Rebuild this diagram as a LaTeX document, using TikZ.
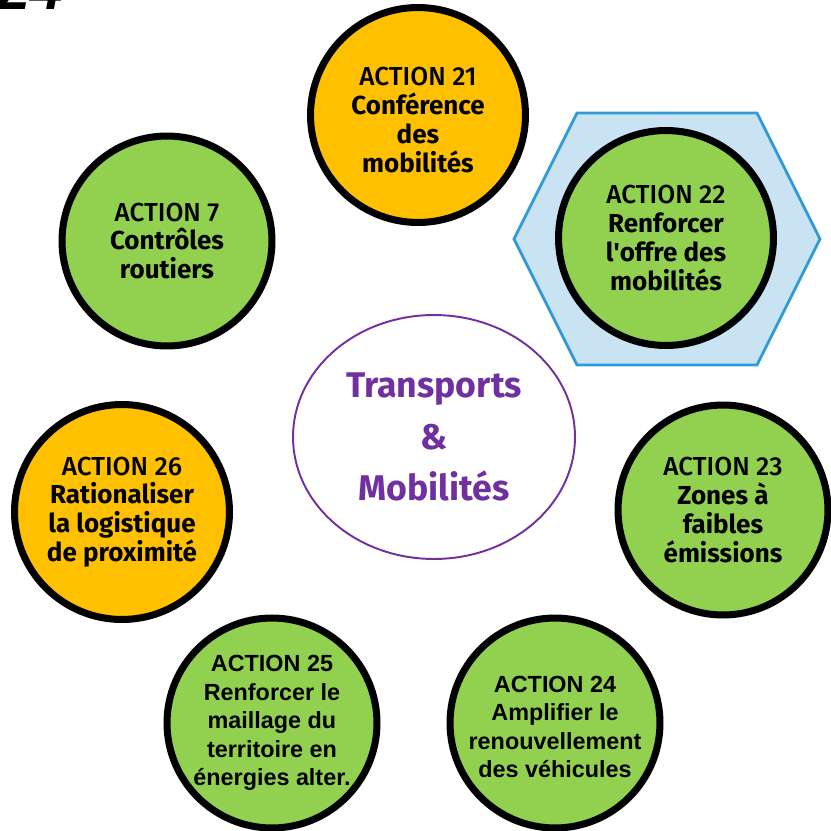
\documentclass[tikz,border=0pt]{standalone}
\usepackage{fontspec}
\setmainfont{Fira Sans}
\newfontfamily\mediumfont{Fira Sans Medium}
\newfontfamily\arialfont{Liberation Sans}
\usepackage{tikz}
\usetikzlibrary{shapes.geometric, positioning}
\definecolor{colorGold}{HTML}{FFC000}
\definecolor{colorLeaf}{HTML}{92D050}
\definecolor{colorHexFill}{HTML}{C9E3F3}
\definecolor{colorHexLine}{HTML}{2E9AD6}
\definecolor{colorTheme}{HTML}{7030A0}
\newcommand{\acttitle}[1]{{\mediumfont\mdseries ACTION #1}}
\newcommand{\straightquote}{{\addfontfeature{Ligatures=TeXOff}'}}
\tikzset{
  action/.style={circle, draw=black, line width=4pt, minimum size=4.3cm, inner sep=0pt, align=center, font=\bfseries\fontsize{14.8}{16.4}\selectfont},
  actGold/.style={action, fill=colorGold},
  actLeaf/.style={action, fill=colorLeaf},
  actArial/.style={actLeaf, font=\arialfont\bfseries\fontsize{13.3}{16.2}\selectfont},
  acttext/.style={inner sep=0pt, align=center, font=\bfseries\fontsize{14.8}{16.4}\selectfont},
  hexa/.style={fill=colorHexFill, draw=colorHexLine, line width=1.6pt, line join=miter}
}

\begin{document}
\begin{tikzpicture}[x=0.02cm, y=-0.02cm]
\useasboundingbox (0,0) rectangle (831,831);
\clip (0,0) rectangle (831,831);
\node[anchor=base west, inner sep=0pt, font=\arialfont\bfseries\itshape\fontsize{34}{34}\selectfont] (num) at (-3,10) {24};
% theme in the middle
\node[ellipse, draw=colorTheme, line width=1.1pt, minimum width=5.64cm, minimum height=4.88cm, align=center, text=colorTheme, font=\bfseries\fontsize{20.3}{29.5}\selectfont] (tm) at (434,437) {Transports\\\&\\Mobilités};
% highlighted action
\draw[hexa, shift={(667,239)}] (-153,0) -- (-90,-126) -- (90,-126) -- (153,0) -- (90,126) -- (-90,126) -- cycle;
\node[actGold] (a21) at (418,115) {};
\node[acttext] (t21) at ([yshift=-0.1cm]a21.center) {\acttitle{21}\\Conférence\\des\\mobilités};
\node[actLeaf] (a22) at (666,238) {\acttitle{22}\\Renforcer\\l\straightquote offre des\\mobilités};
\node[actLeaf, minimum size=4.2cm] (a7) at (167,241) {\acttitle{7}\\Contrôles\\routiers};
\node[actLeaf, minimum size=4.2cm] (a23) at (723,510) {\acttitle{23}\\Zones à\\faibles\\émissions};
\node[actGold] (a26) at (122,512) {\acttitle{26}\\Rationaliser\\la logistique\\de proximité};
\node[actArial, minimum size=4.2cm] (a24) at (555,723) {};
\node[acttext, font=\arialfont\bfseries\fontsize{13.3}{16.2}\selectfont] (t24) at ([yshift=-0.08cm]a24.center) {ACTION 24\\Amplifier le\\renouvellement\\des véhicules};
\node[actArial, minimum size=4.2cm] (a25) at (272,723) {ACTION 25\\Renforcer le\\maillage du\\territoire en\\énergies alter.};
\end{tikzpicture}
\end{document}
